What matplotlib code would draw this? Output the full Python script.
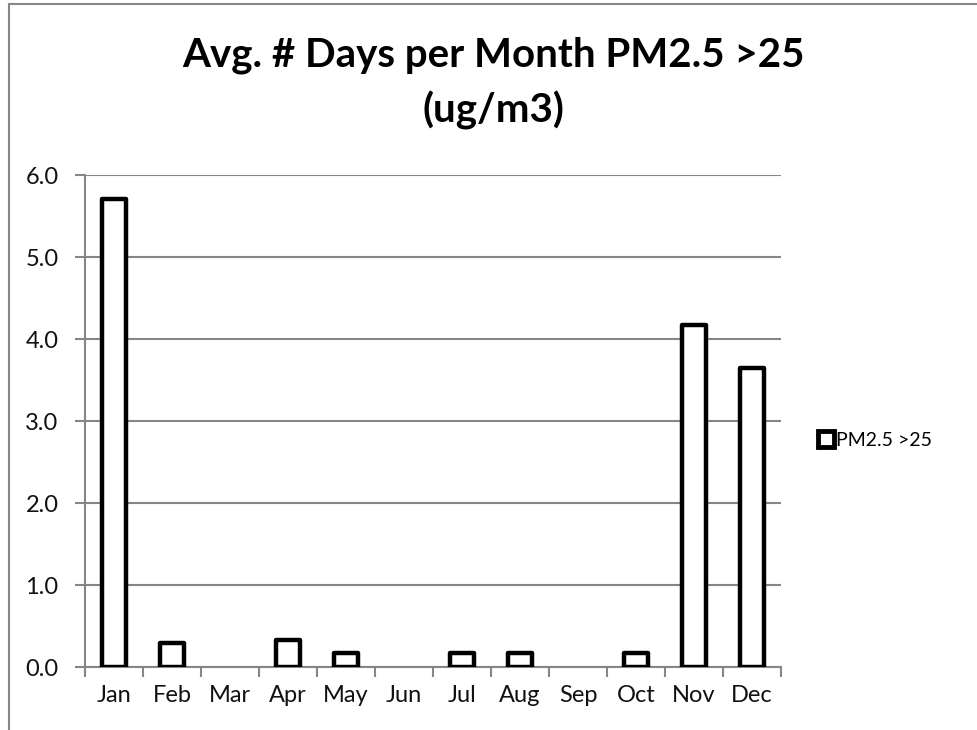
import matplotlib.pyplot as plt
from matplotlib.patches import Rectangle
from matplotlib.lines import Line2D

months = ["Jan", "Feb", "Mar", "Apr", "May", "Jun",
          "Jul", "Aug", "Sep", "Oct", "Nov", "Dec"]
days_over_25 = [5.71, 0.29, 0.0, 0.33, 0.17, 0.0,
                0.17, 0.17, 0.0, 0.17, 4.17, 3.65]
y_ticks = [0.0, 1.0, 2.0, 3.0, 4.0, 5.0, 6.0]

plt.rcParams['font.family'] = ['Lato', 'DejaVu Sans']
grey = "#868686"

fig = plt.figure(figsize=(9.77, 7.30), dpi=100)
ax = fig.add_axes([85 / 977, 1 - 667 / 730, 696 / 977, 492 / 730])

x = list(range(len(months)))
heights = [v if v > 0 else float('nan') for v in days_over_25]
ax.bar(x, heights, width=0.4, facecolor="white", edgecolor="black",
       linewidth=3.2, joinstyle="round", zorder=3)

ax.set_xlim(-0.5, 11.5)
ax.set_ylim(0, 6.0)
ax.set_yticks(y_ticks)
ax.set_yticklabels(["%.1f" % v for v in y_ticks])
ax.set_xticks(x)
ax.set_xticklabels(months)
ax.set_xticks([i - 0.5 for i in range(13)], minor=True)

ax.tick_params(axis="x", which="major", length=0, labelsize=17, pad=13,
               labelcolor="#111111")
ax.tick_params(axis="x", which="minor", length=7, width=1.5, color=grey)
ax.tick_params(axis="y", length=7, width=1.5, color=grey, labelsize=17,
               pad=12, labelcolor="#111111")

ax.grid(axis="y", color=grey, linewidth=1.5, zorder=0)
ax.set_axisbelow(True)
for s in ["top", "right"]:
    ax.spines[s].set_visible(False)
for s in ["left", "bottom"]:
    ax.spines[s].set_color(grey)
    ax.spines[s].set_linewidth(1.5)

fig.text(0.505, 1 - 67 / 730, "Avg. # Days per Month PM2.5 >25",
         ha="center", va="baseline", fontsize=29, fontweight="bold")
fig.text(0.505, 1 - 122 / 730, "(ug/m3)",
         ha="center", va="baseline", fontsize=29, fontweight="bold")

handle = Line2D([], [], marker="s", markersize=11, markerfacecolor="white",
                markeredgecolor="black", markeredgewidth=3.5, linestyle="none")
fig.legend([handle], ["PM2.5 >25"], loc="center left",
           bbox_to_anchor=(809 / 977, 1 - 440 / 730), frameon=False,
           fontsize=14, handletextpad=0.1, handlelength=0.9,
           borderaxespad=0)

# chart frame
fig.add_artist(Rectangle((9 / 977, -0.05), 1.1, 1.05 - 4 / 730,
                         transform=fig.transFigure, fill=False,
                         edgecolor=grey, linewidth=1.5))

fig.savefig("out.png", dpi=100)
